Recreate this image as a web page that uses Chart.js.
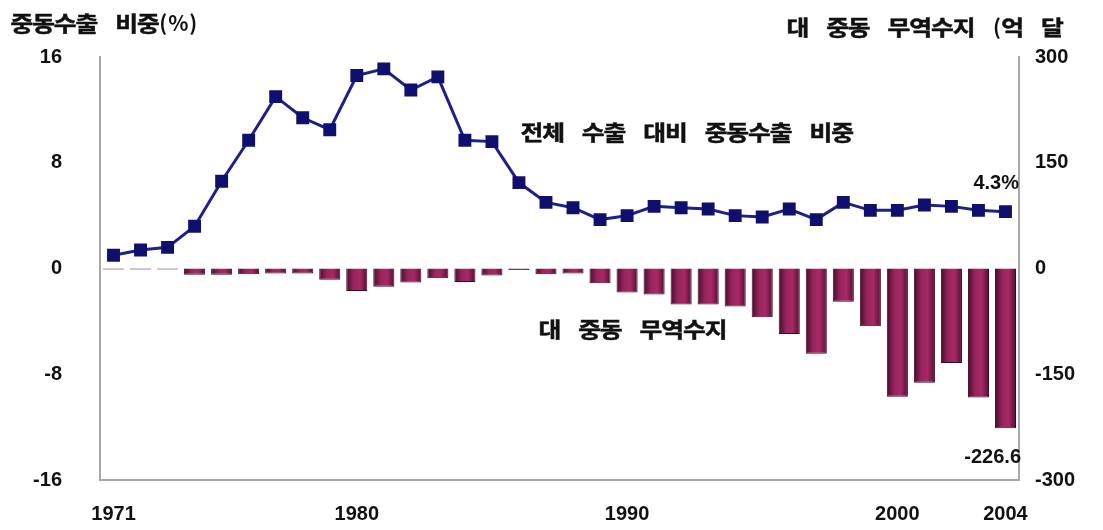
<!DOCTYPE html>
<html>
<head>
<meta charset="utf-8">
<script src="https://cdn.jsdelivr.net/npm/chart.js@4.4.1/dist/chart.umd.min.js"></script>
<style>
  body { margin: 0; background: #fff; }
  #wrap { width: 1103px; height: 530px; }
</style>
</head>
<body>
<div id="wrap"><canvas id="grafico" width="1103" height="530"></canvas></div>
<script>
const anos = [];
for (let a = 1971; a <= 2004; a++) anos.push(String(a));
const anosVisiveis = ['1971', '1980', '1990', '2000', '2004'];

// 전체 수출 대비 중동수출 비중 (%)
const participacao = [1.0, 1.4, 1.6, 3.2, 6.6, 9.7, 13.0, 11.4, 10.5, 14.6,
  15.1, 13.5, 14.5, 9.7, 9.6, 6.5, 5.0, 4.6, 3.7, 4.0,
  4.7, 4.6, 4.5, 4.0, 3.9, 4.5, 3.7, 5.0, 4.4, 4.4,
  4.8, 4.7, 4.4, 4.3];

// 대 중동 무역수지 (억 달러)
const saldo = [-1.5, -1.5, -1.5, -9, -9, -8, -7, -7, -16, -32,
  -26, -20, -14, -19, -10, -2, -8, -7, -21, -34,
  -37, -51, -51, -54, -69, -93, -121, -47, -82, -182,
  -162, -134, -183, -226.6];

const ticksEsq = [-16, -8, 0, 8, 16];
const ticksDir = [-300, -150, 0, 150, 300];

const fonteNum = { family: 'Liberation Sans', size: 20, weight: 'bold' };
const fonteKr = 'bold 21px "Noto Sans CJK KR", "Liberation Sans"';

function corBarra(c) {
  const ch = c.chart;
  const xs = ch.scales.x;
  if (!xs || c.type !== 'data') return '#96285e';
  const cx = xs.getPixelForValue(c.dataIndex);
  const w = (xs.width / anos.length) * 0.78;
  if (!isFinite(cx) || !isFinite(w) || w <= 0) return '#96285e';
  const g = ch.ctx.createLinearGradient(cx - w / 2, 0, cx + w / 2, 0);
  g.addColorStop(0, '#4a0c2c');
  g.addColorStop(0.35, '#98245e');
  g.addColorStop(0.65, '#a82866');
  g.addColorStop(1, '#520f32');
  return g;
}

// escreve letra por letra: hangul com avanco fixo (um pouco mais largo), espaco com gap fixo
function escrever(ctx, texto, x, y) {
  const avanco = 21.7, gap = 18;
  let px = x;
  for (const ch of texto) {
    if (ch === ' ') { px += gap; continue; }
    const hangul = /[\uac00-\ud7a3]/.test(ch);
    if (hangul) {
      ctx.save();
      ctx.translate(px + avanco / 2, y);
      ctx.scale(1.18, 1);
      ctx.textAlign = 'center';
      ctx.fillText(ch, 0, 0);
      ctx.strokeText(ch, 0, 0);
      ctx.restore();
      px += avanco;
    } else {
      const w = ctx.measureText(ch).width;
      ctx.fillText(ch, px, y);
      px += w + 1;
    }
  }
}

const textos = {
  id: 'textos',
  afterDraw(chart) {
    const ctx = chart.ctx;
    ctx.save();
    ctx.fillStyle = '#111';
    ctx.strokeStyle = '#111';
    ctx.lineWidth = 0.5;
    ctx.textBaseline = 'middle';
    ctx.textAlign = 'left';
    ctx.font = fonteKr;
    escrever(ctx, '중동수출 비중(%)', 11, 23);
    escrever(ctx, '대 중동 무역수지 (억 달', 787, 27);
    escrever(ctx, '전체 수출 대비 중동수출 비중', 521, 132);
    escrever(ctx, '대 중동 무역수지', 539, 329);
    ctx.font = 'bold 20px "Liberation Sans"';
    ctx.textAlign = 'right';
    ctx.fillText('4.3%', 1019, 183);
    ctx.fillText('-226.6', 1021, 457);
    ctx.restore();
  }
};

new Chart(document.getElementById('grafico'), {
  data: {
    labels: anos,
    datasets: [
      {
        type: 'line',
        label: '전체 수출 대비 중동수출 비중',
        data: participacao,
        yAxisID: 'y',
        borderColor: '#1f1f8a',
        borderWidth: 3,
        pointStyle: 'rect',
        pointRadius: 7,
        pointBackgroundColor: '#0f0f6e',
        pointBorderColor: '#0f0f6e',
        tension: 0,
        order: 0
      },
      {
        type: 'bar',
        label: '대 중동 무역수지',
        data: saldo,
        yAxisID: 'y1',
        backgroundColor: corBarra,
        borderColor: '#3a0a22',
        borderWidth: 1,
        barPercentage: 0.78,
        categoryPercentage: 1,
        order: 1
      }
    ]
  },
  options: {
    responsive: false,
    maintainAspectRatio: false,
    animation: false,
    layout: { padding: { top: 57, left: 0, right: 0, bottom: 0 } },
    plugins: {
      legend: { display: false },
      title: { display: false },
      tooltip: { enabled: false }
    },
    scales: {
      x: {
        offset: true,
        grid: { display: false, drawTicks: false },
        border: { display: true, color: '#a8a8a8', width: 2 },
        ticks: {
          autoSkip: false,
          maxRotation: 0,
          padding: 22,
          color: '#111',
          font: fonteNum,
          callback: function (v, i) {
            return anosVisiveis.includes(anos[i]) ? anos[i] : '';
          }
        },
        afterFit: function (s) { s.height = 47; }
      },
      y: {
        position: 'left',
        min: -16,
        max: 16,
        afterBuildTicks: function (s) { s.ticks = ticksEsq.map(v => ({ value: v })); },
        grid: { display: false, drawTicks: false },
        border: { display: true, color: '#a8a8a8', width: 2 },
        ticks: { padding: 38, color: '#111', font: fonteNum },
        afterFit: function (s) { s.width = 100; }
      },
      y1: {
        position: 'right',
        min: -300,
        max: 300,
        afterBuildTicks: function (s) { s.ticks = ticksDir.map(v => ({ value: v })); },
        grid: { display: false, drawTicks: false },
        border: { display: true, color: '#a8a8a8', width: 2 },
        ticks: { padding: 16, color: '#111', font: fonteNum },
        afterFit: function (s) { s.width = 84; }
      }
    }
  },
  plugins: [textos]
});
</script>
</body>
</html>
